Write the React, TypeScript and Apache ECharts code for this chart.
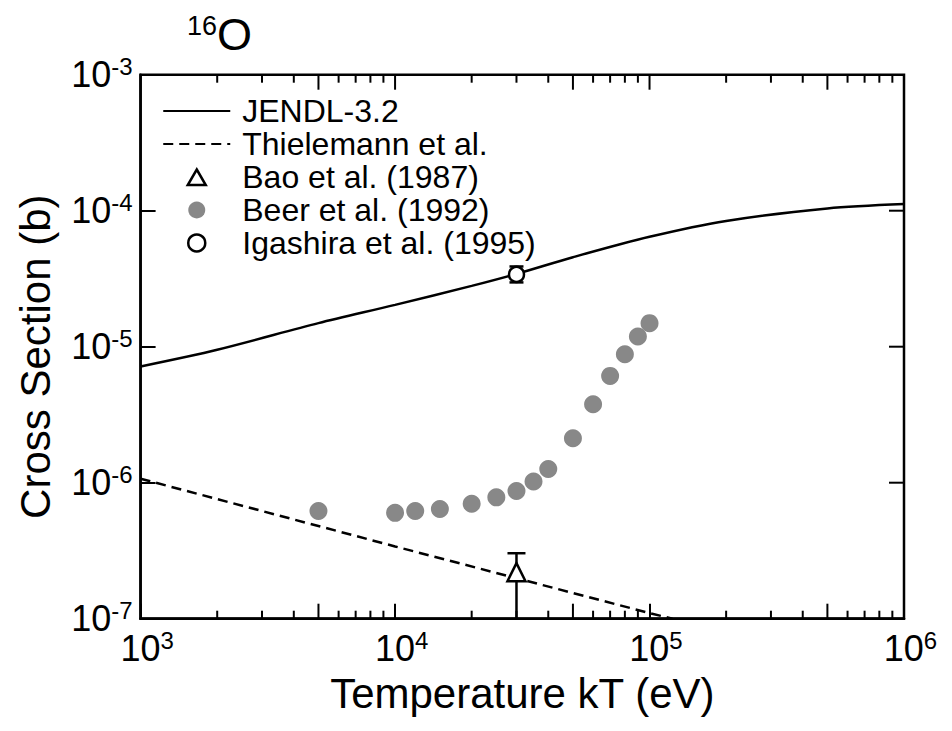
import React, { useEffect, useRef } from "react";
import * as echarts from "echarts";

// JENDL-3.2 evaluated Maxwellian-averaged cross section (b)
const jendlX = [1e3, 2e3, 5e3, 1e4, 2e4, 3e4, 5e4, 1e5, 2e5, 5e5, 1e6];
const jendlY = [7.16e-6, 9.5e-6, 1.49e-5, 2.03e-5, 2.8e-5, 3.43e-5, 4.55e-5, 6.43e-5, 8.41e-5, 1.04e-4, 1.12e-4];

// Thielemann et al. (dashed), ends where it meets the lower frame
const thielX = [1e3, 1e4, 1e5, 1.23e5];
const thielY = [1.07e-6, 3.4e-7, 1.1e-7, 1.0e-7];

// Bao et al. (1987)
const baoX = [3.0e4];
const baoY = [2.2e-7];
const baoHi = [3.03e-7];
const baoLo = [5e-8];

// Beer et al. (1992)
const beerX = [5e3, 1e4, 1.2e4, 1.5e4, 2e4, 2.5e4, 3e4, 3.5e4, 4e4, 5e4, 6e4, 7e4, 8e4, 9e4, 1e5];
const beerY = [6.2e-7, 6.0e-7, 6.2e-7, 6.4e-7, 7.0e-7, 7.8e-7, 8.7e-7, 1.02e-6, 1.26e-6, 2.12e-6, 3.77e-6, 6.1e-6, 8.8e-6, 1.19e-5, 1.49e-5];

// Igashira et al. (1995)
const igaX = [3.0e4];
const igaY = [3.4e-5];
const igaHi = [3.89e-5];
const igaLo = [2.97e-5];

// axis ranges and tick values
const xMin = 1e3;
const xMax = 1e6;
const yMin = 1e-7;
const yMax = 1e-3;
const xMinorTicks = [
  2e3, 3e3, 4e3, 5e3, 6e3, 7e3, 8e3, 9e3,
  2e4, 3e4, 4e4, 5e4, 6e4, 7e4, 8e4, 9e4,
  2e5, 3e5, 4e5, 5e5, 6e5, 7e5, 8e5, 9e5,
];
const xInnerDecades = [1e4, 1e5];
const yInnerDecades = [1e-6, 1e-5, 1e-4];

const names = [
  "JENDL-3.2",
  "Thielemann et al.",
  "Bao et al. (1987)",
  "Beer et al. (1992)",
  "Igashira et al. (1995)",
];

const FONT = "'Liberation Sans', Arial, Helvetica, sans-serif";
const INK = "#000";
const GRAY = "#888888";

const zip = (xs: number[], ys: number[]) => xs.map((x, i) => [x, ys[i]]);

const expFormatter = (v: number) => {
  const e = Math.round(Math.log10(v));
  return `{b|10}{s|${e}}`;
};

const mkRich = () => ({
  b: { fontSize: 36, lineHeight: 40, fontFamily: FONT, color: INK },
  s: { fontSize: 24, lineHeight: 12, verticalAlign: "top", fontFamily: FONT, color: INK },
});

const tickLen = (x: number) => {
  const mant = Math.round(x / Math.pow(10, Math.floor(Math.log10(x) + 1e-9)));
  return mant === 1 || mant === 5 ? 15 : 8;
};

export default function App() {
  const ref = useRef<HTMLDivElement>(null);

  useEffect(() => {
    document.body.style.margin = "0";
    if (!ref.current) return;
    const chart = echarts.init(ref.current, undefined, { renderer: "svg" });

    const errData = [
      [baoX[0], baoLo[0], baoHi[0]],
      [igaX[0], igaLo[0], igaHi[0]],
    ];
    const capW = [18, 14];
    const hiddenMarker = () => ({ color: "rgba(0,0,0,0)", borderWidth: 0, opacity: 0 });

    // x ticks on the top (atTop) or bottom frame edge
    const xTickSeries = (vals: number[], atTop: boolean) => ({
      type: "custom",
      data: vals.map((v) => [v, 1e-5]),
      encode: { x: 0, y: 1 },
      renderItem: (params: any, api: any) => {
        const p = api.coord([api.value(0), api.value(1)]);
        const cs = params.coordSys;
        const len = tickLen(api.value(0));
        const y = atTop ? cs.y : cs.y + cs.height - len;
        return { type: "rect", shape: { x: p[0] - 1, y, width: 2, height: len }, style: { fill: INK } };
      },
      z: 10,
    });

    // y ticks on the right frame edge
    const yRightTicks = {
      type: "custom",
      data: yInnerDecades.map((v) => [1e4, v]),
      encode: { x: 0, y: 1 },
      renderItem: (params: any, api: any) => {
        const p = api.coord([api.value(0), api.value(1)]);
        const cs = params.coordSys;
        return { type: "rect", shape: { x: cs.x + cs.width - 15, y: p[1] - 1, width: 15, height: 2 }, style: { fill: INK } };
      },
      z: 10,
    };

    const option: any = {
      animation: false,
      title: {
        text: "{s|16}{b|O}",
        left: 187,
        top: 12,
        padding: 0,
        textStyle: {
          rich: {
            s: { fontSize: 27, lineHeight: 20, verticalAlign: "top", fontFamily: FONT, color: INK, fontWeight: "normal" },
            b: { fontSize: 45, lineHeight: 44, fontFamily: FONT, color: INK, fontWeight: "normal" },
          },
        },
      },
      legend: {
        orient: "vertical",
        left: 157,
        top: 89.5,
        itemWidth: 67,
        itemHeight: 17,
        itemGap: 0,
        selectedMode: false,
        textStyle: { fontSize: 32, lineHeight: 33, color: INK, fontFamily: FONT, padding: [0, 0, 0, 7] },
        data: [
          { name: names[0], itemStyle: hiddenMarker() },
          { name: names[1], itemStyle: hiddenMarker() },
          {
            name: names[2],
            icon: "path://M0,0M67,17M33.5,1L42.5,16.5L24.5,16.5Z",
            itemStyle: { color: "#fff", borderColor: INK, borderWidth: 2.5, opacity: 1 },
          },
          { name: names[3], itemStyle: { color: GRAY, borderWidth: 0, opacity: 1 } },
          { name: names[4], itemStyle: { color: "#fff", borderColor: INK, borderWidth: 2.5, opacity: 1 } },
        ],
      },
      grid: {
        left: 140.6,
        right: 48,
        top: 74.7,
        bottom: 112.3,
        show: true,
        borderColor: INK,
        borderWidth: 2.5,
        backgroundColor: "transparent",
      },
      xAxis: {
        type: "log",
        min: xMin,
        max: xMax,
        axisLine: { show: true, lineStyle: { color: INK, width: 2.5 } },
        axisTick: { show: true, inside: true, length: 15, lineStyle: { color: INK, width: 2 } },
        splitLine: { show: false },
        axisLabel: {
          formatter: expFormatter,
          rich: mkRich(),
          margin: 9.5,
          padding: [0, 0, 0, 13],
        },
        name: "Temperature kT (eV)",
        nameLocation: "middle",
        nameGap: 54,
        nameTextStyle: { fontSize: 42, fontFamily: FONT, color: INK },
      },
      yAxis: {
        type: "log",
        min: yMin,
        max: yMax,
        axisLine: { show: true, lineStyle: { color: INK, width: 2.5 } },
        axisTick: { show: true, inside: true, length: 15, lineStyle: { color: INK, width: 2 } },
        splitLine: { show: false },
        axisLabel: { formatter: expFormatter, rich: mkRich(), margin: 8 },
        name: "Cross Section (b)",
        nameLocation: "middle",
        nameGap: 84,
        nameRotate: 90,
        nameTextStyle: { fontSize: 42, fontFamily: FONT, color: INK, padding: [0, 20, 0, 0] },
      },
      series: [
        {
          name: names[0],
          type: "line",
          data: zip(jendlX, jendlY),
          smooth: 0.3,
          showSymbol: false,
          symbol: "none",
          lineStyle: { color: INK, width: 2.5 },
          itemStyle: { color: INK },
          z: 3,
        },
        {
          name: names[1],
          type: "line",
          data: zip(thielX, thielY),
          showSymbol: false,
          symbol: "none",
          lineStyle: { color: INK, width: 2.5, type: [10, 6] },
          itemStyle: { color: INK },
          z: 3,
        },
        {
          type: "custom",
          name: "errorbars",
          data: errData,
          encode: { x: 0, y: [1, 2] },
          renderItem: (params: any, api: any) => {
            const i = params.dataIndex;
            const x = api.value(0);
            const lo = api.value(1);
            const hi = api.value(2);
            const pl = api.coord([x, Math.max(lo, yMin)]);
            const ph = api.coord([x, hi]);
            const w = capW[i] / 2;
            const st = { stroke: INK, lineWidth: 2.5 };
            const children: any[] = [
              { type: "line", shape: { x1: pl[0], y1: pl[1], x2: ph[0], y2: ph[1] }, style: st },
              { type: "line", shape: { x1: ph[0] - w, y1: ph[1], x2: ph[0] + w, y2: ph[1] }, style: st },
            ];
            if (lo >= yMin) {
              children.push({ type: "line", shape: { x1: pl[0] - w, y1: pl[1], x2: pl[0] + w, y2: pl[1] }, style: st });
            }
            return { type: "group", children };
          },
          z: 4,
        },
        {
          name: names[2],
          type: "scatter",
          data: zip(baoX, baoY),
          symbol: "triangle",
          symbolSize: 18,
          itemStyle: { color: "#fff", borderColor: INK, borderWidth: 2.5, opacity: 1 },
          z: 5,
        },
        {
          name: names[3],
          type: "scatter",
          data: zip(beerX, beerY),
          symbol: "circle",
          symbolSize: 18,
          itemStyle: { color: GRAY, borderWidth: 0, opacity: 1 },
          z: 5,
        },
        {
          name: names[4],
          type: "scatter",
          data: zip(igaX, igaY),
          symbol: "circle",
          symbolSize: 15,
          itemStyle: { color: "#fff", borderColor: INK, borderWidth: 2.5, opacity: 1 },
          z: 5,
        },
        xTickSeries(xMinorTicks, false),
        xTickSeries(xMinorTicks, true),
        xTickSeries(xInnerDecades, true),
        yRightTicks,
      ],
    };

    chart.setOption(option);
    return () => chart.dispose();
  }, []);

  return <div ref={ref} style={{ width: 952, height: 731, background: "#fff" }} />;
}
